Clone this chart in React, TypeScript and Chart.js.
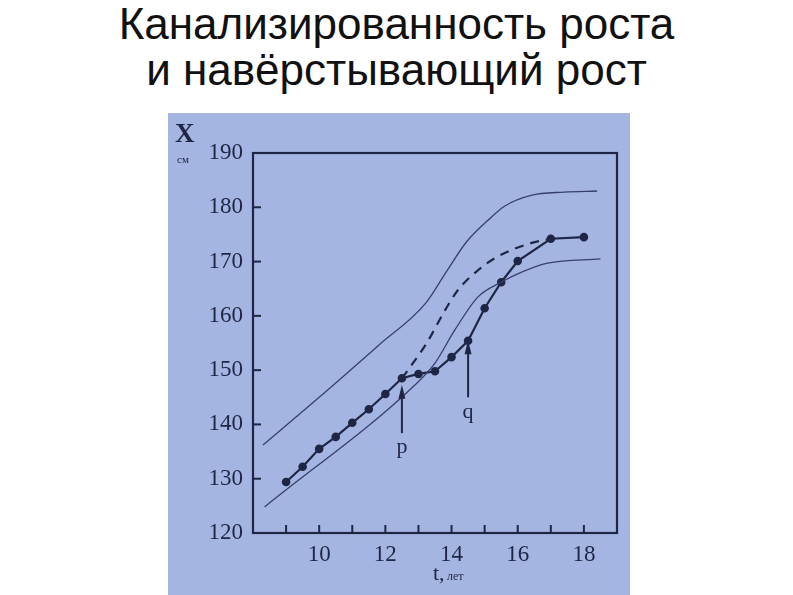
import React, { useEffect, useRef } from "react";
import { Chart, registerables } from "chart.js";

Chart.register(...registerables);

// Observed child: age (years) and height (cm)
const childAges = [9, 9.5, 10, 10.5, 11, 11.5, 12, 12.5, 13, 13.5, 14, 14.5, 15, 15.5, 16, 17, 18];
const childHeights = [129.4, 132.2, 135.5, 137.7, 140.3, 142.8, 145.6, 148.5, 149.3, 149.8, 152.4, 155.4, 161.4, 166.2, 170.1, 174.2, 174.5];

// Upper channel boundary
const upperAges = [8.3, 10, 11.8, 13.2, 13.85, 14.45, 15.1, 15.6, 16.4, 17.4, 18.4];
const upperHeights = [136.2, 145, 154.6, 162.2, 168.2, 173.6, 177.6, 180.2, 182.2, 182.8, 183];

// Lower channel boundary
const lowerAges = [8.35, 12.95, 13.5, 14.1, 14.8, 15.5, 16.1, 16.9, 18.5];
const lowerHeights = [124.8, 147.6, 151.3, 157.4, 163.5, 166.2, 168, 169.7, 170.5];

// Expected (canalized) trajectory, dashed
const expectedAges = [12.5, 12.8, 13.25, 13.8, 14.2, 14.8, 15.3, 15.8, 16.4, 17];
const expectedHeights = [148.5, 151, 155, 161, 164.8, 168.4, 170.6, 172.1, 173.4, 174.2];

// Arrows: label, age, start height, tip height, label height
const arrowLabels = ["p", "q"];
const arrowAges = [12.5, 14.5];
const arrowFrom = [138.4, 145.0];
const arrowTo = [147.3, 155.5];
const arrowLabelAt = [135.8, 142.2];

const xTickLabels = [10, 12, 14, 16, 18];
const xMinorTicks = [9, 10, 11, 12, 13, 14, 15, 16, 17, 18];
const yTickLabels = [120, 130, 140, 150, 160, 170, 180, 190];

const INK = "#1f2645";
const THIN = "#36406a";

const pts = (xs: number[], ys: number[]) => xs.map((x, i) => ({ x, y: ys[i] }));

const decorPlugin = {
  id: "decor",
  afterDatasetsDraw(chart: any) {
    const { ctx, chartArea, scales } = chart;
    const xs = scales.x;
    const ys = scales.y;
    ctx.save();
    // frame
    ctx.strokeStyle = INK;
    ctx.lineWidth = 2.2;
    ctx.strokeRect(chartArea.left, chartArea.top, chartArea.right - chartArea.left, chartArea.bottom - chartArea.top);
    // inward ticks
    ctx.lineWidth = 2;
    yTickLabels.forEach((v) => {
      if (v <= 120 || v >= 190) return;
      const py = ys.getPixelForValue(v);
      ctx.beginPath();
      ctx.moveTo(chartArea.left, py);
      ctx.lineTo(chartArea.left + 8, py);
      ctx.stroke();
    });
    xMinorTicks.forEach((v) => {
      const px = xs.getPixelForValue(v);
      ctx.beginPath();
      ctx.moveTo(px, chartArea.bottom);
      ctx.lineTo(px, chartArea.bottom - 8);
      ctx.stroke();
    });
    // arrows
    ctx.fillStyle = INK;
    arrowAges.forEach((a, i) => {
      const px = xs.getPixelForValue(a);
      const y0 = ys.getPixelForValue(arrowFrom[i]);
      const y1 = ys.getPixelForValue(arrowTo[i]);
      ctx.lineWidth = 2;
      ctx.beginPath();
      ctx.moveTo(px, y0);
      ctx.lineTo(px, y1 + 10);
      ctx.stroke();
      ctx.beginPath();
      ctx.moveTo(px, y1);
      ctx.lineTo(px - 3.5, y1 + 14);
      ctx.lineTo(px + 3.5, y1 + 14);
      ctx.closePath();
      ctx.fill();
      ctx.font = "22px 'Liberation Serif'";
      ctx.textAlign = "center";
      ctx.textBaseline = "middle";
      ctx.fillText(arrowLabels[i], px, ys.getPixelForValue(arrowLabelAt[i]));
    });
    // axis titles
    ctx.textBaseline = "alphabetic";
    ctx.textAlign = "left";
    ctx.font = "bold 27px 'Liberation Serif'";
    ctx.fillText("X", chartArea.left - 78, chartArea.top - 11);
    ctx.font = "11px 'Liberation Serif'";
    ctx.fillText("см", chartArea.left - 76, chartArea.top + 10);
    ctx.font = "22px 'Liberation Serif'";
    ctx.fillText("t,", 433, 580);
    ctx.font = "12px 'Liberation Serif'";
    ctx.fillText("лет", 447, 580);
    ctx.restore();
  },
};

export default function App() {
  const ref = useRef<HTMLCanvasElement>(null);
  useEffect(() => {
    if (!ref.current) return;
    const chart = new Chart(ref.current, {
      type: "scatter",
      data: {
        datasets: [
          {
            label: "upper",
            data: pts(upperAges, upperHeights),
            showLine: true,
            borderColor: THIN,
            borderWidth: 1.3,
            pointRadius: 0,
            cubicInterpolationMode: "monotone",
          },
          {
            label: "lower",
            data: pts(lowerAges, lowerHeights),
            showLine: true,
            borderColor: THIN,
            borderWidth: 1.3,
            pointRadius: 0,
            cubicInterpolationMode: "monotone",
          },
          {
            label: "expected",
            data: pts(expectedAges, expectedHeights),
            showLine: true,
            borderColor: INK,
            borderWidth: 2.2,
            borderDash: [9, 7],
            pointRadius: 0,
            cubicInterpolationMode: "monotone",
          },
          {
            label: "child",
            data: pts(childAges, childHeights),
            showLine: true,
            borderColor: INK,
            borderWidth: 2.2,
            pointRadius: 3.2,
            pointBackgroundColor: INK,
            pointBorderColor: INK,
            tension: 0,
          },
        ],
      },
      options: {
        animation: false,
        responsive: false,
        layout: { padding: { left: 0, top: 153, right: 176, bottom: 0 } },
        plugins: { legend: { display: false }, tooltip: { enabled: false } },
        scales: {
          x: {
            type: "linear",
            min: 8,
            max: 19,
            grid: { display: false, drawTicks: false },
            border: { display: false },
            afterFit: (s: any) => { s.height = 62; },
            afterBuildTicks: (s: any) => { s.ticks = xTickLabels.map((v) => ({ value: v })); },
            ticks: {
              padding: 8,
              color: INK,
              font: { family: "'Liberation Serif'", size: 23 },
            },
          },
          y: {
            type: "linear",
            min: 120,
            max: 190,
            grid: { display: false, drawTicks: false },
            border: { display: false },
            afterFit: (s: any) => { s.width = 253; },
            afterBuildTicks: (s: any) => { s.ticks = yTickLabels.map((v) => ({ value: v })); },
            ticks: {
              padding: 10,
              color: INK,
              font: { family: "'Liberation Serif'", size: 23 },
            },
          },
        },
      },
      plugins: [decorPlugin],
    });
    return () => chart.destroy();
  }, []);

  return (
    <div style={{ position: "fixed", left: 0, top: 0, width: 793, height: 595, background: "#ffffff", overflow: "hidden" }}>
      <div style={{ position: "absolute", left: 168, top: 113, width: 462, height: 482, background: "#a5b5e2" }} />
      <div
        style={{
          position: "absolute",
          left: 0,
          top: 1,
          width: 793,
          textAlign: "center",
          fontFamily: "'Liberation Sans', Arial, sans-serif",
          fontSize: 44,
          lineHeight: "46px",
          color: "#111",
        }}
      >
        Канализированность роста
        <br />и навёрстывающий рост
      </div>
      <canvas ref={ref} width={793} height={595} style={{ position: "absolute", left: 0, top: 0, width: 793, height: 595 }} />
    </div>
  );
}
